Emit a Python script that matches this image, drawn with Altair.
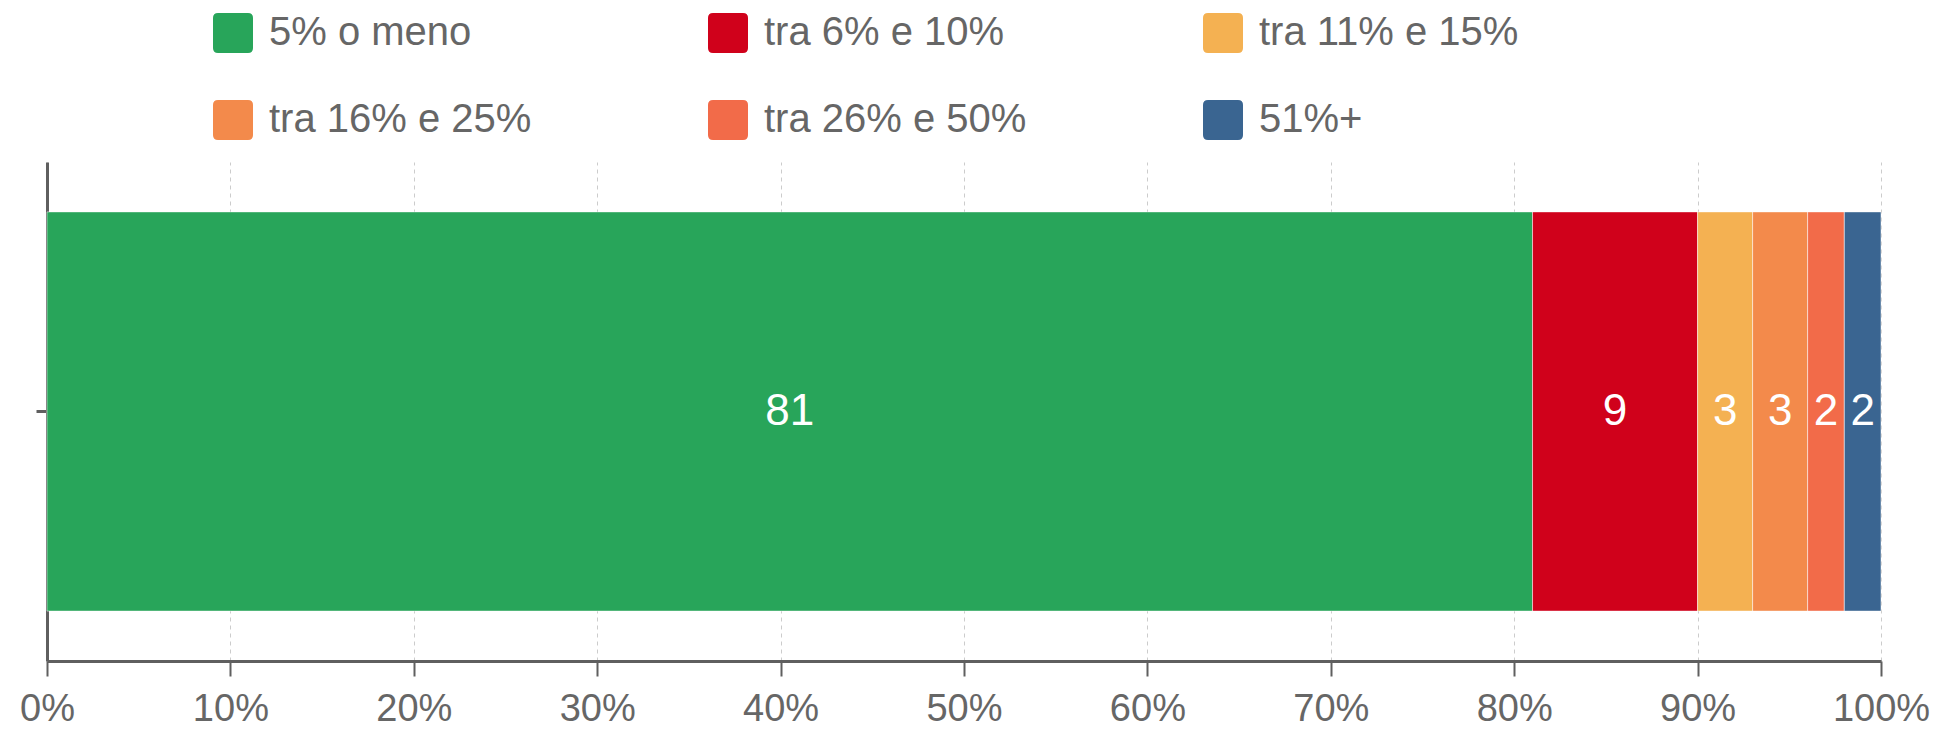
import altair as alt
import pandas as pd

categories = ["5% o meno", "tra 6% e 10%", "tra 11% e 15%", "tra 16% e 25%", "tra 26% e 50%", "51%+"]
values = [81, 9, 3, 3, 2, 2]
colors = ["#28a55a", "#d0011b", "#f4b152", "#f38a4b", "#f26b49", "#3a6591"]
x_ticks = [0, 10, 20, 30, 40, 50, 60, 70, 80, 90, 100]

df = pd.DataFrame({
    "cat": categories,
    "val": values,
    "idx": list(range(len(categories))),
    "grp": ["A"] * len(categories),
})

FONT = "Liberation Sans, Arial, sans-serif"
ROUNDED = ("M -0.75,-1 H 0.75 Q 1,-1 1,-0.75 V 0.75 Q 1,1 0.75,1 H -0.75 "
           "Q -1,1 -1,0.75 V -0.75 Q -1,-1 -0.75,-1 Z")

x_axis = alt.Axis(
    values=x_ticks, labelExpr="datum.value + '%'", title=None,
    domainColor="#5f5f5f", domainWidth=3, tickColor="#5f5f5f", tickWidth=2,
    tickSize=15, labelFontSize=38, labelColor="#666666", labelFont=FONT,
    labelPadding=14, grid=True, gridColor="#cccccc", gridDash=[4, 4], gridWidth=1,
    labelFlush=False, labelOverlap=False,
)
y_axis = alt.Axis(
    title=None, labels=False, domain=True, domainColor="#5f5f5f", domainWidth=3,
    ticks=True, tickSize=11, tickWidth=3, tickColor="#5f5f5f", grid=False,
)
x_scale = alt.Scale(domain=[0, 100], nice=False)
y_scale = alt.Scale(paddingInner=0.2, paddingOuter=0.1)

bars = alt.Chart(df).mark_bar(stroke="white", strokeWidth=1, strokeOpacity=0.5).encode(
    x=alt.X("val:Q", stack="zero", scale=x_scale, axis=x_axis),
    y=alt.Y("grp:N", scale=y_scale, axis=y_axis),
    color=alt.Color(
        "cat:N",
        scale=alt.Scale(domain=categories, range=colors),
        legend=alt.Legend(
            title=None, orient="none", legendX=166, legendY=-149, columns=3,
            direction="horizontal",
            columnPadding=176, rowPadding=47, symbolType=ROUNDED, symbolSize=1600,
            symbolStrokeWidth=0, symbolOpacity=1, labelFontSize=40,
            labelColor="#666666", labelFont=FONT, labelOffset=16, labelLimit=600,
        ),
    ),
    order=alt.Order("idx:Q", sort="ascending"),
)

labels = alt.Chart(df).transform_stack(
    stack="val", groupby=["grp"], as_=["v0", "v1"], sort=[alt.SortField("idx", order="ascending")]
).transform_calculate(
    mid="(datum.v0 + datum.v1) / 2"
).mark_text(
    color="white", fontSize=44, font=FONT, align="center", baseline="middle"
).encode(
    x=alt.X("mid:Q", scale=x_scale, axis=x_axis),
    y=alt.Y("grp:N", scale=y_scale, axis=y_axis),
    text=alt.Text("val:Q"),
)

chart = alt.layer(bars, labels).properties(
    width=1834, height=499,
    autosize=alt.AutoSizeParams(type="none"),
    padding={"left": 47, "top": 162, "right": 55, "bottom": 70},
    background="white",
).configure_view(stroke=None)

chart.save("out.html", embed_options={"renderer": "svg", "actions": False})
